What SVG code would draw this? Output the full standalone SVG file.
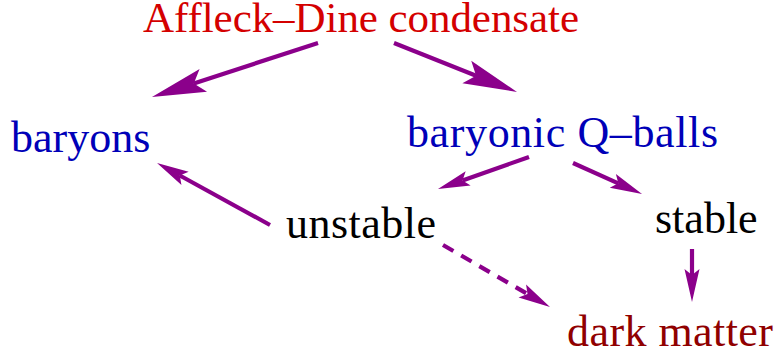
<svg xmlns="http://www.w3.org/2000/svg" width="779" height="356" viewBox="0 0 779 356">
<style>
text{font-family:'Liberation Serif','Times New Roman',serif;font-size:44px}
.red{fill:#d40000}
.blue{fill:#0000b8}
.blk{fill:#000}
.dred{fill:#900000}
.arr{stroke:#8b008b;stroke-width:4.2;fill:none}
.dash{stroke-dasharray:12 9}
</style>
<defs>
<marker id="big" markerUnits="userSpaceOnUse" orient="auto" refX="0" refY="0" markerWidth="60" markerHeight="30" viewBox="-12 -15 60 30" overflow="visible">
<path d="M44,0 L-10,-12 L0,0 L-10,12 Z" fill="#8b008b"/>
</marker>
<marker id="small" markerUnits="userSpaceOnUse" orient="auto" refX="0" refY="0" markerWidth="40" markerHeight="20" viewBox="-8 -10 40 20" overflow="visible">
<path d="M26,0 L-6,-7.5 L0,0 L-6,7.5 Z" fill="#8b008b"/>
</marker>
<marker id="tall" markerUnits="userSpaceOnUse" orient="auto" refX="0" refY="0" markerWidth="40" markerHeight="20" viewBox="-8 -10 40 20" overflow="visible">
<path d="M27,0 L-6,-7.5 L0,0 L-6,7.5 Z" fill="#8b008b"/>
</marker>
</defs>
<g id="connectors">
<line class="arr" x1="318" y1="43" x2="193.8" y2="83.4" marker-end="url(#big)"/>
<line class="arr" x1="394" y1="43" x2="476.1" y2="75.7" marker-end="url(#big)"/>
<line class="arr" x1="529" y1="157" x2="462.5" y2="180.4" marker-end="url(#small)"/>
<line class="arr" x1="573" y1="163" x2="618.3" y2="183.3" marker-end="url(#small)"/>
<line class="arr" x1="270" y1="225" x2="179.8" y2="175.5" marker-end="url(#small)"/>
<line class="arr dash" x1="443" y1="245" x2="527.5" y2="294" marker-end="url(#small)"/>
<line class="arr" x1="692" y1="249" x2="692" y2="275" marker-end="url(#tall)"/>
</g>
<g id="ad"><text class="red" x="143" y="32" style="font-size:43px" textLength="436">Affleck–Dine condensate</text></g>
<g id="baryons"><text class="blue" x="11" y="152">baryons</text></g>
<g id="qballs"><text class="blue" x="407" y="147" textLength="311">baryonic Q–balls</text></g>
<g id="unstable"><text class="blk" x="286" y="238" textLength="150">unstable</text></g>
<g id="stable"><text class="blk" x="655" y="233">stable</text></g>
<g id="dm"><text class="dred" x="567" y="346" textLength="206">dark matter</text></g>
</svg>
